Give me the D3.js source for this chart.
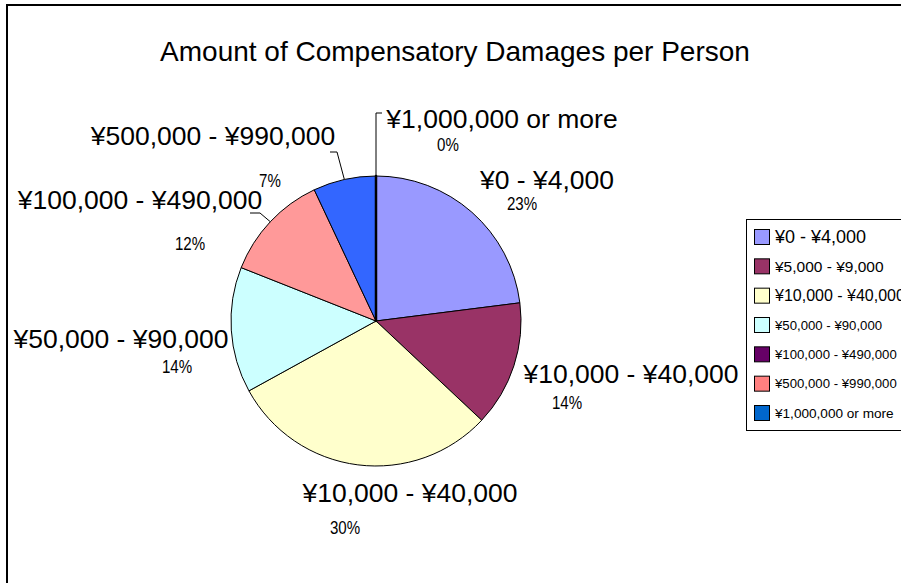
<!DOCTYPE html>
<html>
<head>
<meta charset="utf-8">
<script src="https://cdn.jsdelivr.net/npm/d3@7"></script>
<style>
  html, body { margin: 0; padding: 0; background: #ffffff; }
  svg { display: block; }
</style>
</head>
<body>
<svg id="chart" width="901" height="583"></svg>
<script>
// Share of people by compensation amount
const sliceLabels = [
  "¥0 - ¥4,000",
  "¥10,000 - ¥40,000",
  "¥10,000 - ¥40,000",
  "¥50,000 - ¥90,000",
  "¥100,000 - ¥490,000",
  "¥500,000 - ¥990,000",
  "¥1,000,000 or more"
];
const sliceValues = [23, 14, 30, 14, 12, 7, 0];

const legendLabels = [
  "¥0 - ¥4,000",
  "¥5,000 - ¥9,000",
  "¥10,000 - ¥40,000",
  "¥50,000 - ¥90,000",
  "¥100,000 - ¥490,000",
  "¥500,000 - ¥990,000",
  "¥1,000,000 or more"
];

const titleText = "Amount of Compensatory Damages per Person";

// Styling
const sliceColors = ["#9999FF", "#993366", "#FFFFCC", "#CCFFFF", "#FF9999", "#3366FF", "#660066"];
const legendColors = ["#9999FF", "#993366", "#FFFFCC", "#CCFFFF", "#660066", "#FF8080", "#0066CC"];
const legendFontSizes = [18, 15.5, 16, 13.2, 13.2, 13.2, 13.6];

// Label placement relative to the pie centre: [dx, baseline dy]
const nameOffsets = [[171, -132], [255, 62], [34, 181], [-255, 27], [-236, -112], [-163, -176], [126, -193]];
const pctOffsets  = [[146, -111], [191, 88], [-31, 213], [-199, 52], [-186, -71], [-106, -134], [72, -170]];
// Leader line bends for labels set away from their slices: list of points relative to centre
const leaderBends = [null, null, null, null,
  [[-116, -108], [-126, -108]],
  [[-39, -169], [-46, -169]],
  [[0, -208], [6, -208]]];

const W = 901, H = 583;
const cx = 376, cy = 321, R = 145;
const sansFont = "'Liberation Sans', Arial, Helvetica, sans-serif";
const pctCondense = 0.84;

const svg = d3.select("#chart");

svg.append("rect").attr("width", W).attr("height", H).attr("fill", "#ffffff");

// Chart area frame (runs off the right and bottom edges)
svg.append("rect")
  .attr("x", 7).attr("y", 5)
  .attr("width", 1000).attr("height", 1000)
  .attr("fill", "none").attr("stroke", "#000").attr("stroke-width", 2);

// Title
svg.append("text")
  .attr("x", 455).attr("y", 61)
  .attr("text-anchor", "middle")
  .attr("font-family", sansFont)
  .attr("font-size", 28)
  .attr("fill", "#000")
  .text(titleText);

// Pie
const pie = d3.pie().sort(null).value(d => d.value);
const arc = d3.arc().innerRadius(0).outerRadius(R);
const data = sliceValues.map((v, i) => ({ value: v, name: sliceLabels[i], color: sliceColors[i], i }));
const arcs = pie(data);

const g = svg.append("g").attr("transform", `translate(${cx},${cy})`);

g.selectAll("path.slice")
  .data(arcs)
  .join("path")
  .attr("class", "slice")
  .attr("d", arc)
  .attr("fill", d => d.data.color)
  .attr("stroke", "#000")
  .attr("stroke-width", d => d.data.value === 0 ? 2.5 : 1)
  .attr("stroke-linejoin", "round");

// Leader lines
const line = d3.line();
arcs.forEach((a, i) => {
  const bends = leaderBends[i];
  if (!bends) return;
  const mid = (a.startAngle + a.endAngle) / 2;
  const start = [R * Math.sin(mid), -R * Math.cos(mid)];
  g.append("path")
    .attr("d", line([start, ...bends]))
    .attr("fill", "none")
    .attr("stroke", "#000")
    .attr("stroke-width", 1);
});

// Category labels
g.selectAll("text.name")
  .data(arcs)
  .join("text")
  .attr("class", "name")
  .attr("x", (d, i) => nameOffsets[i][0])
  .attr("y", (d, i) => nameOffsets[i][1])
  .attr("text-anchor", "middle")
  .attr("font-family", sansFont)
  .attr("font-size", 26.5)
  .attr("fill", "#000")
  .text(d => d.data.name);

// Percentage labels (condensed face)
const total = d3.sum(sliceValues);
g.selectAll("text.pct")
  .data(arcs)
  .join("text")
  .attr("class", "pct")
  .attr("transform", (d, i) => `translate(${pctOffsets[i][0]},${pctOffsets[i][1]}) scale(${pctCondense},1)`)
  .attr("text-anchor", "middle")
  .attr("font-family", sansFont)
  .attr("font-size", 18)
  .attr("fill", "#000")
  .text(d => Math.round(d.data.value / total * 100) + "%");

// Legend
const legendX = 746, legendY = 219, legendH = 211;
const legend = svg.append("g");
legend.append("rect")
  .attr("x", legendX + 0.5).attr("y", legendY + 0.5)
  .attr("width", 400).attr("height", legendH)
  .attr("fill", "#fff").attr("stroke", "#000").attr("stroke-width", 1);

const rowY = d3.scalePoint().domain(d3.range(legendLabels.length)).range([237, 413]);

const rows = legend.selectAll("g.row")
  .data(legendLabels)
  .join("g")
  .attr("class", "row")
  .attr("transform", (d, i) => `translate(0,${rowY(i)})`);

rows.append("rect")
  .attr("x", 754.5).attr("y", -7.5)
  .attr("width", 15).attr("height", 15)
  .attr("fill", (d, i) => legendColors[i])
  .attr("stroke", "#000").attr("stroke-width", 1);

rows.append("text")
  .attr("x", 775).attr("y", 0)
  .attr("dy", "0.36em")
  .attr("font-family", sansFont)
  .attr("font-size", (d, i) => legendFontSizes[i])
  .attr("fill", "#000")
  .text(d => d);
</script>
</body>
</html>
